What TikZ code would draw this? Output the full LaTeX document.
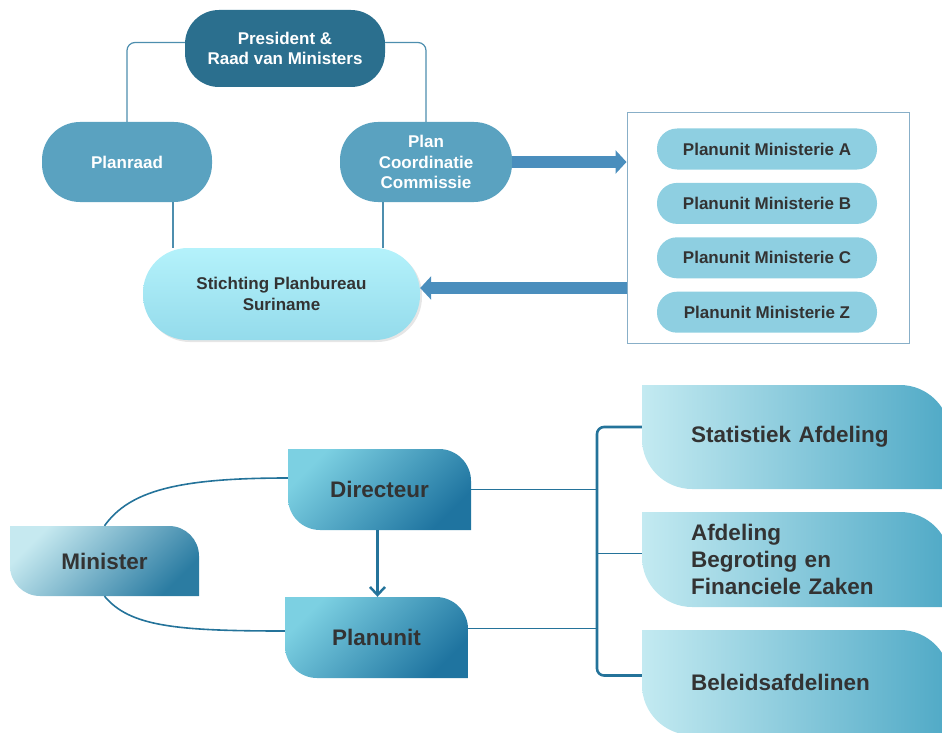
\documentclass[tikz,border=0pt]{standalone}
\usepackage{fontspec}
\setmainfont{Liberation Sans}
\usetikzlibrary{arrows.meta,positioning,shadows}
\definecolor{presblue}{HTML}{2B6F8E}
\definecolor{midblue}{HTML}{5AA2C0}
\definecolor{stichtop}{HTML}{B4F2FB}
\definecolor{stichbot}{HTML}{94DBEB}
\definecolor{unitfill}{HTML}{8ECFE1}
\definecolor{boxline}{HTML}{88AFC8}
\definecolor{toplinkc}{HTML}{4D8EAE}
\definecolor{fatblue}{HTML}{4A8EBD}
\definecolor{lowlinkc}{HTML}{24739A}
\definecolor{txtdark}{HTML}{333333}
\definecolor{minlight}{HTML}{C6E9F0}
\definecolor{mindark}{HTML}{2B7CA2}
\definecolor{dirlight}{HTML}{7CD0E2}
\definecolor{dirdark}{HTML}{1F74A0}
\definecolor{afdlight}{HTML}{C3EAF1}
\definecolor{afddark}{HTML}{4FA9C6}
\newcommand{\toptxt}{\fontsize{17}{20.5}\selectfont\bfseries}
\newcommand{\lowtxt}{\fontsize{22.5}{27}\selectfont\bfseries}
\tikzset{
  pill/.style={
    shape = rectangle,
    inner sep = 0pt,
    align = center,
    text = white,
    font = \toptxt
  },
  unitpill/.style={
    pill,
    fill = unitfill,
    text = txtdark,
    minimum width = 220,
    minimum height = 41,
    rounded corners = 20
  },
  leaf/.style 2 args={
    shape = rectangle,
    inner sep = 0pt,
    text = txtdark,
    font = \lowtxt,
    path picture={
      \shade[#2] (path picture bounding box.north west)
        -- ([xshift=-#1pt]path picture bounding box.north east)
        arc[start angle=90, end angle=0, radius=#1pt]
        -- (path picture bounding box.south east)
        -- ([xshift=#1pt]path picture bounding box.south west)
        arc[start angle=270, end angle=180, radius=#1pt]
        -- cycle;
    }
  },
  afdeling/.style={
    leaf={50}{left color=afdlight, right color=afddark},
    minimum width = 308,
    text width = 210,
    align = left
  },
  toplink/.style={
    draw = toplinkc,
    line width = 1.2,
    rounded corners = 8
  },
  fatarrow/.style={
    draw = fatblue,
    line width = 12,
    -{Triangle[length=11pt,width=23pt]}
  },
  lowlink/.style={
    draw = lowlinkc,
    line width = 1.6
  },
  bracketline/.style={
    draw = lowlinkc,
    line width = 2.6,
    rounded corners = 7
  }
}
\begin{document}
\begin{tikzpicture}[x=1pt,y=-1pt]
  \useasboundingbox (0,0) rectangle (942,733);
  \clip (0,0) rectangle (942,733);

  % upper part
  \node[pill, fill=presblue, minimum width=200, minimum height=77, rounded corners=34] (pres) at (285,48.5) {President \&\\Raad van Ministers};
  \node[pill, fill=midblue, minimum width=170, minimum height=80, rounded corners=38] (planraad) at (127,162) {Planraad};
  \node[pill, fill=midblue, minimum width=172, minimum height=80, rounded corners=38] (pcc) at (426,162) {Plan\\Coordinatie\\Commissie};
  \node[pill, top color=stichtop, bottom color=stichbot, text=txtdark, minimum width=277, minimum height=92, rounded corners=45,
        drop shadow={shadow xshift=2pt, shadow yshift=-2pt, opacity=0.2}] (stich) at (281.5,294) {Stichting Planbureau\\Suriname};

  \node[draw=boxline, line width=1, minimum width=282, minimum height=230] (plbox) at (768,228) {};
  \node[unitpill] (puA) at (767,149) {Planunit Ministerie A};
  \node[unitpill, below=13pt of puA] (puB) {Planunit Ministerie B};
  \node[unitpill, below=13pt of puB] (puC) {Planunit Ministerie C};
  \node[unitpill, below=13pt of puC] (puZ) {Planunit Ministerie Z};

  \draw[toplink] ([yshift=6]pres.west) -| (planraad.north);
  \draw[toplink] ([yshift=6]pres.east) -| (pcc.north);
  \draw[toplink] ([xshift=46]planraad.south) -- ([xshift=46]planraad.south |- stich.north);
  \draw[toplink] ([xshift=-43]pcc.south) -- ([xshift=-43]pcc.south |- stich.north);
  \draw[fatarrow] (pcc.east) -- (pcc.east -| plbox.west);
  \draw[fatarrow] ([yshift=-60]plbox.west) -- ([yshift=-60]plbox.west -| stich.east);

  % lower part
  \node[leaf={30}{top color=minlight, bottom color=mindark, shading angle=45}, minimum width=189, minimum height=70] (minister) at (104.5,561) {Minister};
  \node[leaf={32}{top color=dirlight, bottom color=dirdark, shading angle=45}, minimum width=183, minimum height=81] (directeur) at (379.5,489.5) {Directeur};
  \node[leaf={32}{top color=dirlight, bottom color=dirdark, shading angle=45}, minimum width=183, minimum height=81] (planunit) at (376.5,637.5) {Planunit};
  \node[afdeling, minimum height=104] (stat) at (796,437) {Statistiek Afdeling};
  \node[afdeling, minimum height=95] (begr) at (796,559.5) {Afdeling\\Begroting en\\Financiele Zaken};
  \node[afdeling, minimum height=105] (beleid) at (796,682.5) {Beleidsafdelinen};
  \coordinate (brx) at (597,0);

  \draw[lowlink] (minister.north) .. controls +(25,-35) and +(-110,0) .. ([yshift=11.5]directeur.west);
  \draw[lowlink] (minister.south) .. controls +(25,30) and +(-110,0) .. ([yshift=6.5]planunit.west);
  \draw[lowlink, line width=2.5, -{Straight Barb[length=8pt,width=15pt]}] ([xshift=-2]directeur.south) -- ([xshift=-2]directeur.south |- planunit.north);
  \draw[lowlink] (directeur.east) -- (directeur.east -| brx);
  \draw[lowlink] ([yshift=9]planunit.east) -- ([yshift=9]planunit.east -| brx);
  \draw[lowlink] ([yshift=6]begr.west) -- ([yshift=6]begr.west -| brx);
  \draw[bracketline] ([yshift=10]stat.west) -| ([yshift=7]beleid.west -| brx) -- ([yshift=7]beleid.west);
\end{tikzpicture}
\end{document}
